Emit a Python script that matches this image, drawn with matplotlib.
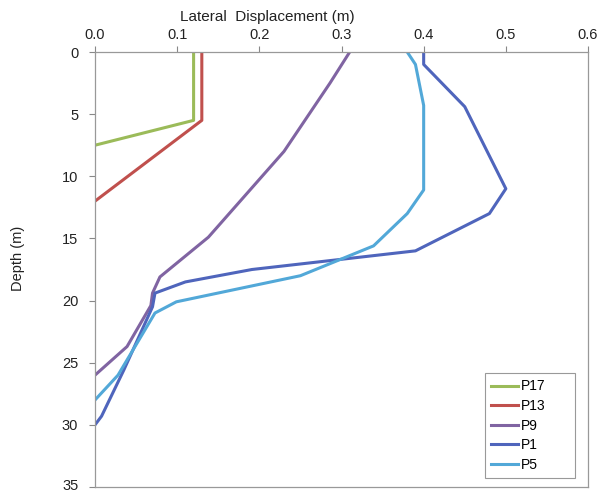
import matplotlib.pyplot as plt
import matplotlib.transforms as mtransforms

plt.rcParams['font.family'] = ['Liberation Sans', 'DejaVu Sans']

# displacement (m) vs depth (m) for each pile
p17_x = [0.12, 0.12, 0.0]
p17_d = [0.0, 5.5, 7.5]

p13_x = [0.13, 0.13, 0.0]
p13_d = [0.0, 5.5, 12.0]

p9_x = [0.31, 0.286, 0.23, 0.138, 0.079, 0.07, 0.068, 0.039, 0.0]
p9_d = [0.0, 2.5, 8.0, 14.9, 18.1, 19.4, 20.4, 23.7, 26.0]

p1_x = [0.40, 0.40, 0.45, 0.50, 0.48, 0.39, 0.191, 0.11, 0.073, 0.07, 0.035, 0.008, 0.0]
p1_d = [0.0, 1.0, 4.4, 11.0, 13.0, 16.0, 17.5, 18.5, 19.4, 20.5, 25.6, 29.3, 30.0]

p5_x = [0.38, 0.39, 0.40, 0.40, 0.38, 0.339, 0.25, 0.099, 0.073, 0.028, 0.0]
p5_d = [0.0, 1.0, 4.3, 11.1, 13.0, 15.6, 18.0, 20.1, 21.0, 26.0, 28.0]

series = [
    ('P17', p17_x, p17_d, '#9BBB59'),
    ('P13', p13_x, p13_d, '#C0504D'),
    ('P9', p9_x, p9_d, '#8064A2'),
    ('P1', p1_x, p1_d, '#4F65BC'),
    ('P5', p5_x, p5_d, '#52A8D8'),
]

fig = plt.figure(figsize=(5.99, 4.93), dpi=100)
ax = fig.add_axes([95 / 599, 1 - 487 / 493, 493 / 599, 435 / 493])

for name, xs, ds, col in series:
    ax.plot(xs, ds, color=col, lw=2.2, label=name)

ax.set_xlim(0, 0.6)
ax.set_ylim(35, 0)
ax.set_xticks([0.0, 0.1, 0.2, 0.3, 0.4, 0.5, 0.6])
ax.set_xticklabels(['0.0', '0.1', '0.2', '0.3', '0.4', '0.5', '0.6'])
ax.set_yticks(range(0, 36, 5))
ax.set_yticklabels([str(v) for v in range(0, 36, 5)])
ax.xaxis.tick_top()
ax.tick_params(axis='both', labelsize=10.5, colors='#888888', labelcolor='#222222',
               length=4, direction='out')
ax.tick_params(axis='y', pad=8)
ax.tick_params(axis='x', pad=3)
for s in ax.spines.values():
    s.set_color('#999999')
    s.set_linewidth(0.9)

# nudge the bottom depth label so it stays inside the image
last = ax.get_yticklabels()[-1]
last.set_transform(last.get_transform() +
                   mtransforms.ScaledTranslation(0, 3 / 100, fig.dpi_scale_trans))

fig.text(267 / 599, 1 - 17 / 493, 'Lateral  Displacement (m)', ha='center', va='center',
         fontsize=11, color='#222222')
fig.text(18 / 599, 1 - 258 / 493, 'Depth (m)', ha='center', va='center',
         rotation=90, fontsize=10.5, color='#222222')

leg = ax.legend(loc='lower left', bbox_to_anchor=(0.791, 0.021, 0.183, 0.2), mode='expand',
                borderaxespad=0, fontsize=10, handlelength=1.95, handletextpad=0.2,
                labelspacing=0.4, fancybox=False, framealpha=1, borderpad=0.45)
leg.get_frame().set_edgecolor('#999999')
leg.get_frame().set_linewidth(0.8)

fig.savefig('out.png', dpi=100)
